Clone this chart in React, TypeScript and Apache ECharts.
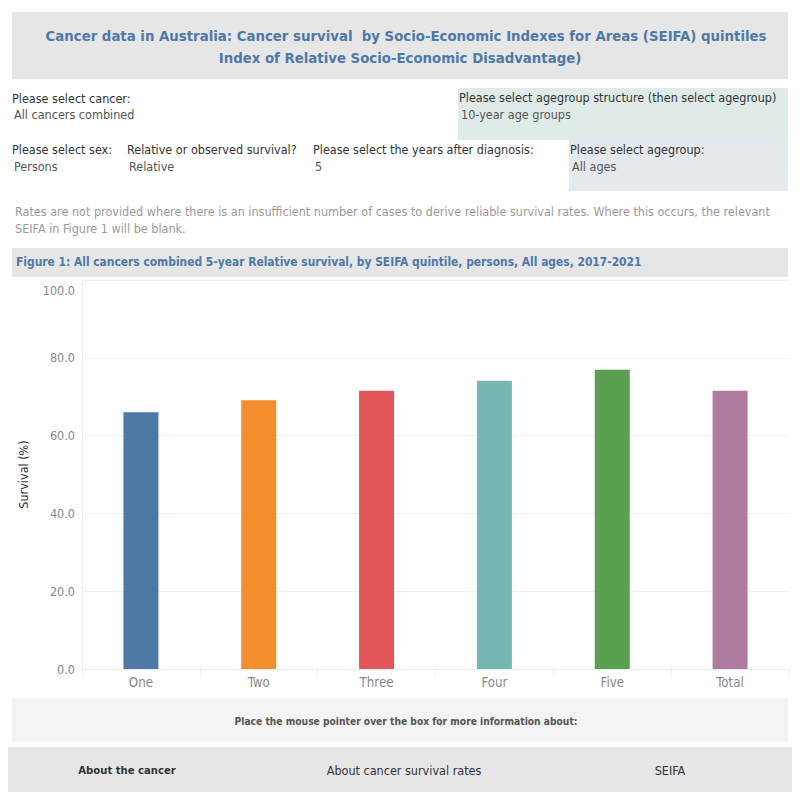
import React, { useEffect, useRef } from "react";
import * as echarts from "echarts";

const categories = ["One", "Two", "Three", "Four", "Five", "Total"];
const survival = [66.0, 69.1, 71.5, 74.1, 76.9, 71.5];
const barColors = ["#4e79a7", "#f28e2b", "#e15759", "#76b7b2", "#59a14f", "#b07aa1"];
const yTicks = { min: 0, max: 100, interval: 20 };

const titleLines = [
  "Cancer data in Australia: Cancer survival  by Socio-Economic Indexes for Areas (SEIFA) quintiles",
  "Index of Relative Socio-Economic Disadvantage)",
];
const figureTitle =
  "Figure 1: All cancers combined 5-year Relative survival, by SEIFA quintile, persons, All ages, 2017-2021";
const noteLines = [
  "Rates are not provided where there is an insufficient number of cases to derive reliable survival rates. Where this occurs, the relevant",
  "SEIFA in Figure 1 will be blank.",
];

const FONT = "'DejaVu Sans Condensed', 'DejaVu Sans', sans-serif";

function txt(x: number, y: number, text: string, opts: any = {}) {
  return {
    type: "text",
    x,
    y,
    silent: true,
    style: {
      text,
      fill: opts.fill || "#333333",
      font: `${opts.weight || "normal"} ${opts.size || 12.5}px ${FONT}`,
      textAlign: opts.align || "left",
      textVerticalAlign: "middle",
    },
  };
}

export default function App() {
  const ref = useRef<HTMLDivElement>(null);
  useEffect(() => {
    document.body.style.margin = "0";
    const chart = echarts.init(ref.current!, null, { renderer: "svg" });
    const graphic: any[] = [
      { type: "rect", shape: { x: 12, y: 12, width: 776, height: 67 }, style: { fill: "#e6e6e6" }, silent: true },
      txt(406, 35, titleLines[0], { weight: "bold", size: 14.8, fill: "#4e79a7", align: "center" }),
      txt(400, 57, titleLines[1], { weight: "bold", size: 14.8, fill: "#4e79a7", align: "center" }),
      { type: "rect", shape: { x: 458, y: 88, width: 330, height: 52 }, style: { fill: "#dfebe8" }, silent: true },
      { type: "rect", shape: { x: 569, y: 139, width: 219, height: 52 }, style: { fill: "#e4e9ee" }, silent: true },
      txt(12, 98, "Please select cancer:", { fill: "#333" }),
      txt(14, 114, "All cancers combined", { fill: "#555" }),
      txt(459, 97, "Please select agegroup structure (then select agegroup)", { fill: "#333" }),
      txt(461, 114, "10-year age groups", { fill: "#555" }),
      txt(12, 149, "Please select sex:", { fill: "#333" }),
      txt(14, 166, "Persons", { fill: "#555" }),
      txt(127, 149, "Relative or observed survival?", { fill: "#333" }),
      txt(129, 166, "Relative", { fill: "#555" }),
      txt(313, 149, "Please select the years after diagnosis:", { fill: "#333" }),
      txt(315, 166, "5", { fill: "#555" }),
      txt(570, 149, "Please select agegroup:", { fill: "#333" }),
      txt(572, 166, "All ages", { fill: "#555" }),
      txt(15, 211, noteLines[0], { fill: "#999" }),
      txt(15, 228, noteLines[1], { fill: "#999" }),
      { type: "rect", shape: { x: 12, y: 248, width: 776, height: 29 }, style: { fill: "#e6e6e6" }, silent: true },
      txt(16, 262, figureTitle, { weight: "bold", size: 11.9, fill: "#4e79a7" }),
      { type: "rect", shape: { x: 12, y: 698, width: 776, height: 44 }, style: { fill: "#f4f4f4" }, silent: true },
      txt(406, 721, "Place the mouse pointer over the box for more information about:", { weight: "bold", size: 10.2, fill: "#555", align: "center" }),
      { type: "rect", shape: { x: 8, y: 747, width: 784, height: 45 }, style: { fill: "#e6e6e6" }, silent: true },
      txt(127, 770, "About the cancer", { weight: "bold", size: 11.2, fill: "#333", align: "center" }),
      txt(404, 770, "About cancer survival rates", { size: 12.5, fill: "#333", align: "center" }),
      txt(670, 770, "SEIFA", { size: 12.5, fill: "#333", align: "center" }),
    ];
    chart.setOption({
      animation: false,
      backgroundColor: "#ffffff",
      textStyle: { fontFamily: FONT },
      graphic,
      grid: { left: 82, right: 11, top: 280, bottom: 131, containLabel: false },
      xAxis: {
        type: "category",
        data: categories,
        axisLine: { show: true, lineStyle: { color: "#ebebeb" } },
        axisTick: { show: true, length: 6, lineStyle: { color: "#ebebeb" } },
        axisLabel: { color: "#888888", fontSize: 13.2, margin: 7, fontFamily: FONT },
      },
      yAxis: {
        type: "value",
        min: yTicks.min,
        max: yTicks.max,
        interval: yTicks.interval,
        name: "Survival (%)",
        nameLocation: "middle",
        nameGap: 52,
        nameTextStyle: { color: "#333333", fontSize: 12.5, fontFamily: FONT },
        axisLine: { show: true, lineStyle: { color: "#f0f0f0" } },
        axisTick: { show: false },
        splitLine: { lineStyle: { color: "#f0f0f0" } },
        axisLabel: {
          color: "#888888",
          fontSize: 12.5,
          margin: 7,
          fontFamily: FONT,
          formatter: (v: number) => (v === 100 ? "{t|100.0}" : v.toFixed(1)),
          rich: { t: { color: "#888888", fontSize: 12.5, fontFamily: FONT, padding: [20, 0, 0, 0] } },
        },
      },
      series: [
        {
          type: "bar",
          barWidth: 35,
          data: survival.map((v, i) => ({ value: v, itemStyle: { color: barColors[i] } })),
        },
      ],
    });
    return () => chart.dispose();
  }, []);
  return <div ref={ref} style={{ width: 800, height: 800 }} />;
}
